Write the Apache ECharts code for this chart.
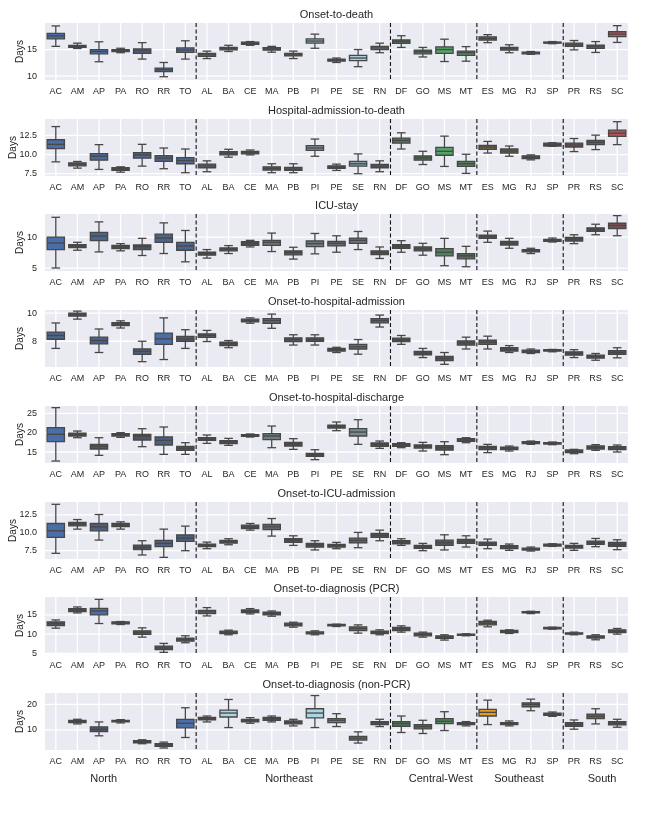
<!DOCTYPE html>
<html lang="en">
<head>
  <meta charset="UTF-8">
  <title>Delay distributions by state</title>
  <script src="https://cdn.jsdelivr.net/npm/echarts@6/dist/echarts.min.js"></script>
  <style>
    html, body { margin: 0; padding: 0; background: #fff; }
    #chart { width: 660px; height: 825px; }
  </style>
</head>
<body>
  <div id="chart"></div>
  <script>
    // states grouped by region (North, Northeast, Central-West, Southeast, South)
    const states = ['AC','AM','AP','PA','RO','RR','TO','AL','BA','CE','MA','PB','PI','PE','SE','RN',
                    'DF','GO','MS','MT','ES','MG','RJ','SP','PR','RS','SC'];
    const regions = ['North', 'Northeast', 'Central-West', 'Southeast', 'South'];
    const regionSizes = [7, 9, 4, 4, 3];

    const panelTitles = ['Onset-to-death', 'Hospital-admission-to-death', 'ICU-stay',
      'Onset-to-hospital-admission', 'Onset-to-hospital-discharge', 'Onset-to-ICU-admission',
      'Onset-to-diagnosis (PCR)', 'Onset-to-diagnosis (non-PCR)'];
    const yRanges = [[9.26, 20], [7.2, 14.65], [4.52, 13.72], [6.17, 10.22],
                     [12.16, 26.9], [6.34, 14.3], [4.83, 19.66], [2.08, 24.5]];
    const yTicks = [[10, 15], [7.5, 10, 12.5], [5, 10], [8, 10],
                    [15, 20, 25], [7.5, 10, 12.5], [5, 10, 15], [10, 20]];

    // each box: [lower whisker, q1, median, q3, upper whisker], in state order
    const onsetToDeath = [
      [15.6,17.0,17.56,18.05,19.45],[15.2,15.4,15.6,15.8,16.2],[12.7,14.2,14.63,15.0,16.46],
      [14.4,14.6,14.8,15.0,15.24],[13.2,14.3,14.75,15.1,16.3],[9.88,10.85,11.2,11.5,12.56],
      [13.2,14.45,14.9,15.3,16.65],[13.3,13.7,14.0,14.27,14.7],[14.63,14.94,15.2,15.4,15.8],
      [15.8,15.98,16.2,16.4,16.5],[14.5,14.88,15.1,15.37,15.6],[13.3,13.8,14.0,14.27,14.7],
      [15.24,16.2,16.6,17.0,17.9],[12.56,12.8,13.05,13.2,13.4],[11.77,12.9,13.4,13.9,15.0],
      [14.4,15.0,15.3,15.6,16.2],[15.4,16.16,16.5,16.8,17.6],[13.6,14.2,14.6,14.9,15.4],
      [12.74,14.27,15.0,15.5,16.95],[12.8,13.9,14.4,14.7,15.55],[16.3,16.77,17.07,17.4,17.8],
      [14.4,14.88,15.2,15.4,15.9],[14.1,14.2,14.4,14.5,14.63],[16.1,16.2,16.3,16.42,16.5],
      [14.94,15.6,15.9,16.2,16.7],[14.45,15.2,15.55,15.85,16.5],[16.34,17.44,17.9,18.35,19.5]
    ];
    const admissionToDeath = [
      [9.05,10.78,11.34,11.94,13.66],[8.23,8.53,8.75,8.92,9.1],[8.06,9.27,9.78,10.13,11.3],
      [7.7,7.93,8.1,8.28,8.4],[8.49,9.53,9.96,10.26,11.34],[8.15,9.1,9.53,9.87,10.86],
      [7.63,8.8,9.22,9.6,10.73],[7.76,8.28,8.53,8.75,9.18],[9.66,9.96,10.17,10.39,10.69],
      [9.96,10.09,10.26,10.43,10.6],[7.63,7.97,8.19,8.4,8.8],[7.63,7.93,8.1,8.32,8.8],
      [9.78,10.56,10.86,11.16,12.03],[7.93,8.19,8.36,8.53,8.75],[7.5,8.49,8.8,9.1,10.09],
      [7.76,8.28,8.49,8.7,9.18],[10.73,11.5,11.85,12.15,12.85],[8.7,9.27,9.57,9.83,10.43],
      [8.45,9.91,10.43,10.95,12.41],[7.54,8.45,8.8,9.1,10.04],[10.2,10.69,10.99,11.2,11.72],
      [9.78,10.2,10.47,10.73,11.12],[9.31,9.48,9.66,9.83,9.96],[11.08,11.12,11.3,11.5,11.55],
      [10.39,10.99,11.25,11.5,12.1],[10.65,11.3,11.6,11.85,12.54],[11.3,12.37,12.8,13.19,14.3]
    ];
    const icuStay = [
      [5.0,7.98,9.04,10.0,13.19],[7.87,8.3,8.56,8.78,9.15],[7.6,9.41,10.16,10.74,12.45],
      [7.77,8.14,8.4,8.67,8.94],[7.02,7.98,8.46,8.72,9.79],[7.34,9.15,9.84,10.48,12.29],
      [6.0,7.87,8.56,9.15,11.06],[6.6,7.07,7.34,7.55,7.98],[7.34,7.77,8.03,8.24,8.62],
      [8.4,8.67,8.99,9.26,9.47],[7.66,8.67,9.15,9.47,10.64],[6.44,7.13,7.5,7.77,8.35],
      [7.29,8.46,8.94,9.36,10.58],[7.55,8.56,8.99,9.3,10.2],[7.98,8.99,9.47,9.84,10.9],
      [6.54,7.18,7.5,7.77,8.4],[7.55,8.19,8.5,8.78,9.41],[7.07,7.77,8.09,8.4,8.99],
      [5.37,6.97,7.55,8.14,9.79],[5.21,6.49,6.97,7.34,8.5],[9.15,9.79,10.1,10.32,10.96],
      [8.19,8.72,9.04,9.3,9.79],[7.34,7.6,7.82,7.98,8.19],[9.2,9.3,9.47,9.63,9.84],
      [8.94,9.36,9.68,9.95,10.37],[10.37,10.9,11.22,11.49,12.07],[10.21,11.38,11.86,12.23,13.46]
    ];
    const onsetToAdmission = [
      [7.49,8.14,8.41,8.65,9.3],[9.57,9.78,9.9,10.0,10.14],[7.2,7.81,8.05,8.29,8.87],
      [8.94,9.11,9.23,9.33,9.45],[6.55,7.06,7.28,7.45,8.0],[6.7,7.78,8.17,8.58,9.66],
      [7.49,8.0,8.17,8.34,8.82],[7.98,8.27,8.41,8.53,8.77],[7.54,7.69,7.81,7.93,8.05],
      [9.28,9.37,9.47,9.57,9.66],[8.92,9.28,9.47,9.61,9.93],[7.73,7.98,8.12,8.24,8.46],
      [7.73,8.0,8.12,8.24,8.46],[7.2,7.3,7.4,7.49,7.57],[7.08,7.45,7.61,7.78,8.12],
      [9.01,9.3,9.47,9.61,9.86],[7.78,7.98,8.1,8.22,8.41],[6.84,7.04,7.16,7.28,7.49],
      [6.36,6.63,6.77,6.92,7.2],[7.45,7.73,7.88,8.02,8.29],[7.45,7.78,7.93,8.07,8.36],
      [7.2,7.3,7.42,7.54,7.69],[7.13,7.2,7.3,7.37,7.45],[7.25,7.3,7.35,7.4,7.42],
      [6.84,7.01,7.13,7.25,7.4],[6.65,6.8,6.92,7.01,7.13],[6.82,7.06,7.2,7.33,7.54]
    ];
    const onsetToDischarge = [
      [12.67,17.67,19.57,21.3,26.47],[18.7,19.14,19.57,19.9,20.43],[14.14,15.78,16.47,16.98,18.7],
      [18.8,19.14,19.48,19.74,20.0],[16.38,18.1,19.14,19.57,21.03],[14.4,16.81,18.02,18.88,21.47],
      [14.4,15.43,15.95,16.47,17.41],[17.24,18.02,18.36,18.7,19.4],[16.72,17.16,17.59,17.93,18.53],
      [18.88,19.05,19.31,19.48,19.66],[16.12,18.19,19.14,19.74,21.72],[15.69,16.55,17.07,17.5,18.45],
      [13.02,13.88,14.31,14.66,15.6],[20.52,21.2,21.64,21.98,22.76],[16.98,19.14,20.17,21.03,23.36],
      [15.95,16.47,16.98,17.33,17.84],[16.12,16.47,16.81,17.16,17.41],[15.26,16.03,16.47,16.81,17.5],
      [14.31,15.52,16.12,16.64,17.67],[17.41,17.76,18.1,18.45,18.7],[14.83,15.6,16.12,16.47,16.98],
      [15.26,15.6,16.03,16.29,16.55],[16.98,17.16,17.41,17.67,17.84],[16.9,17.07,17.24,17.41,17.59],
      [14.57,14.83,15.17,15.52,15.69],[15.43,15.78,16.21,16.55,16.9],[15.0,15.6,16.03,16.38,16.81]
    ];
    const onsetToIcu = [
      [7.13,9.35,10.28,11.3,13.98],[10.51,10.97,11.2,11.44,11.85],[8.98,10.28,10.83,11.3,12.55],
      [10.51,10.88,11.06,11.3,11.53],[6.9,7.64,7.96,8.29,8.89],[6.57,8.06,8.52,8.94,10.51],
      [7.5,8.8,9.26,9.72,10.93],[7.78,8.06,8.24,8.43,8.7],[8.33,8.56,8.75,8.94,9.17],
      [10.37,10.6,10.83,11.06,11.3],[9.54,10.46,10.83,11.16,11.99],[8.24,8.66,8.94,9.17,9.58],
      [7.6,8.01,8.29,8.52,8.89],[7.78,8.01,8.19,8.38,8.66],[7.92,8.61,8.94,9.26,10.05],
      [8.89,9.35,9.63,9.91,10.37],[8.24,8.47,8.7,8.89,9.17],[7.5,7.82,8.06,8.24,8.52],
      [7.6,8.24,8.61,8.98,9.72],[8.01,8.52,8.8,9.07,9.58],[7.78,8.24,8.47,8.7,9.12],
      [7.55,7.78,8.01,8.19,8.43],[7.45,7.6,7.73,7.87,8.01],[8.1,8.15,8.29,8.43,8.47],
      [7.55,7.87,8.06,8.24,8.52],[8.06,8.38,8.61,8.84,9.21],[7.64,8.1,8.38,8.66,9.03]
    ];
    const diagnosisPcr = [
      [11.55,12.24,12.76,13.19,13.7],[15.52,15.86,16.29,16.64,17.07],[12.76,15.0,16.03,16.72,19.05],
      [12.5,12.67,12.93,13.19,13.28],[9.22,9.91,10.43,10.86,11.64],[5.26,5.95,6.38,6.9,7.59],
      [7.76,8.19,8.62,8.97,9.57],[14.74,15.34,15.78,16.2,16.9],[9.83,10.17,10.43,10.78,11.03],
      [15.26,15.6,15.95,16.29,16.64],[14.66,15.0,15.34,15.69,16.03],[11.81,12.16,12.5,12.84,13.1],
      [9.83,10.09,10.34,10.6,10.86],[11.98,12.16,12.33,12.5,12.59],[10.26,10.95,11.47,11.9,12.41],
      [9.83,10.17,10.52,10.78,11.12],[10.52,10.95,11.38,11.72,12.16],[9.22,9.57,9.91,10.26,10.52],
      [8.45,8.88,9.22,9.57,9.83],[9.57,9.66,9.83,10.0,10.09],[11.9,12.41,12.84,13.28,13.62],
      [10.17,10.43,10.69,10.95,11.12],[15.34,15.52,15.69,15.86,15.95],[11.29,11.38,11.55,11.72,11.81],
      [9.83,10.0,10.17,10.34,10.52],[8.53,8.97,9.22,9.57,9.83],[10.0,10.43,10.78,11.12,11.47]
    ];
    const diagnosisNonPcr = [
      null,[12.34,12.86,13.38,13.77,14.16],[7.66,9.35,10.26,11.17,13.12],
      [12.73,13.12,13.38,13.77,14.03],[4.55,4.94,5.32,5.71,6.1],[2.86,3.5,4.03,4.55,5.19],
      [7.0,10.78,12.6,14.16,18.7],[13.12,13.9,14.42,14.94,15.45],[10.9,15.06,16.62,17.8,21.95],
      [12.6,13.12,13.64,14.16,14.8],[13.12,13.77,14.42,14.94,15.45],[11.56,12.34,12.99,13.5,14.16],
      [10.9,14.68,16.62,18.3,23.5],[11.3,12.86,13.77,14.42,16.36],[4.81,5.97,6.75,7.4,9.22],
      [11.3,12.08,12.73,13.25,14.16],[8.96,11.43,12.47,13.25,15.45],[8.57,10.39,11.3,12.08,13.77],
      [9.74,12.47,13.38,14.42,17.14],[11.56,12.08,12.47,12.86,13.25],[12.08,15.45,16.88,18.05,21.69],
      [11.56,12.08,12.47,12.86,13.5],[17.53,19.09,20.0,20.65,22.08],[15.32,15.71,16.23,16.62,17.01],
      [10.26,11.43,12.21,12.86,13.9],[12.34,14.42,15.32,16.23,18.31],[11.04,11.95,12.6,13.25,14.16]
    ];

    const panels = [onsetToDeath, admissionToDeath, icuStay, onsetToAdmission,
                    onsetToDischarge, onsetToIcu, diagnosisPcr, diagnosisNonPcr];

    // ---- styling ----
    const FONT = '"Liberation Sans", Arial, sans-serif';
    const regionColors = ['#4a6ea8', '#a9d6e4', '#55a466', '#eca21c', '#d7525a'];
    const darkColor = [78, 80, 82];
    const edgeColor = '#474747';
    const plotLeft = 45, plotRight = 32, plotHeight = 57;
    const plotWidth = 660 - plotLeft - plotRight;
    const labelMargin = 8;
    const tops = panelTitles.map((t, i) => Math.round(23 + i * 95.7));
    const regionLabelAt = [2.22, 10.8, 17.83, 21.45, 25.3];

    // region index of each state
    const regionOf = [];
    regionSizes.forEach((n, r) => { for (let k = 0; k < n; k++) regionOf.push(r); });
    // dashed separators go after the last state of each region (except the last)
    const separators = [];
    let acc = 0;
    regionSizes.slice(0, -1).forEach(n => { acc += n; separators.push(acc - 1); });

    const measureCtx = document.createElement('canvas').getContext('2d');
    measureCtx.font = `9px ${FONT}`;

    function hexToRgb(h) {
      return [parseInt(h.slice(1, 3), 16), parseInt(h.slice(3, 5), 16), parseInt(h.slice(5, 7), 16)];
    }
    // wider distributions get the full region colour, narrow ones fade to dark grey
    function boxColor(region, t) {
      const base = hexToRgb(regionColors[region]);
      const c = base.map((v, k) => Math.round(darkColor[k] + (v - darkColor[k]) * t));
      return `rgb(${c[0]},${c[1]},${c[2]})`;
    }

    function renderBox(params, api) {
      const x = api.value(0);
      const lo = api.coord([x, api.value(1)]);
      const q1 = api.coord([x, api.value(2)]);
      const md = api.coord([x, api.value(3)]);
      const q3 = api.coord([x, api.value(4)]);
      const hi = api.coord([x, api.value(5)]);
      const bw = api.size([1, 0])[0] * 0.8;
      const cx = lo[0];
      const lineStyle = { stroke: edgeColor, lineWidth: 1.3 };
      const cap = bw / 4;
      return {
        type: 'group',
        children: [
          { type: 'line', shape: { x1: cx, y1: q1[1], x2: cx, y2: lo[1] }, style: lineStyle },
          { type: 'line', shape: { x1: cx, y1: q3[1], x2: cx, y2: hi[1] }, style: lineStyle },
          { type: 'line', shape: { x1: cx - cap, y1: lo[1], x2: cx + cap, y2: lo[1] }, style: lineStyle },
          { type: 'line', shape: { x1: cx - cap, y1: hi[1], x2: cx + cap, y2: hi[1] }, style: lineStyle },
          { type: 'rect', shape: { x: cx - bw / 2, y: q3[1], width: bw, height: q1[1] - q3[1] },
            style: { fill: api.visual('color'), stroke: edgeColor, lineWidth: 1.3 } },
          { type: 'line', shape: { x1: cx - bw / 2, y1: md[1], x2: cx + bw / 2, y2: md[1] }, style: lineStyle }
        ]
      };
    }

    function makeBackground(ticks) {
      return function (params, api) {
        const cs = params.coordSys;
        const x = api.coord([api.value(0), ticks[0]])[0];
        const children = [{ type: 'line', shape: { x1: x, y1: cs.y, x2: x, y2: cs.y + cs.height },
                            style: { stroke: '#ffffff', lineWidth: 1.3 } }];
        if (params.dataIndex === 0) {
          ticks.forEach(v => {
            const y = api.coord([0, v])[1];
            children.push({ type: 'line', shape: { x1: cs.x, y1: y, x2: cs.x + cs.width, y2: y },
                            style: { stroke: '#ffffff', lineWidth: 1.3 } });
          });
        }
        return { type: 'group', children };
      };
    }

    function renderSeparator(params, api) {
      const cs = params.coordSys;
      const i = api.value(0);
      const a = api.coord([i, 0])[0];
      const b = api.coord([i + 1, 0])[0];
      const x = (a + b) / 2;
      return { type: 'line', shape: { x1: x, y1: cs.y, x2: x, y2: cs.y + cs.height },
               style: { stroke: '#111111', lineWidth: 1.1, lineDash: [4, 2.5] } };
    }

    const grid = [], xAxis = [], yAxis = [], series = [], graphics = [];

    panels.forEach((boxes, p) => {
      const ticks = yTicks[p];
      const decimals = ticks.some(v => v % 1 !== 0) ? 1 : 0;
      const fmt = v => v.toFixed(decimals);
      grid.push({ left: plotLeft, right: plotRight, top: tops[p], height: plotHeight,
                  containLabel: false, outerBoundsMode: 'none',
                  show: true, backgroundColor: '#eaeaf2', borderWidth: 0 });
      xAxis.push({
        type: 'category', gridIndex: p, data: states,
        axisLine: { show: false }, axisTick: { show: false }, splitLine: { show: false },
        axisLabel: { interval: 0, fontSize: 9, color: '#262626', margin: 7, fontFamily: FONT }
      });
      yAxis.push({
        type: 'value', gridIndex: p, min: yRanges[p][0], max: yRanges[p][1],
        axisLine: { show: false }, axisTick: { show: false }, splitLine: { show: false },
        axisLabel: { customValues: ticks, fontSize: 9, color: '#262626', margin: labelMargin,
                     fontFamily: FONT, formatter: fmt }
      });

      const spans = boxes.map(b => b ? b[4] - b[0] : 0);
      const maxSpan = Math.max(...spans);
      const boxData = [];
      boxes.forEach((b, i) => {
        if (!b) return;
        const t = Math.min(1, Math.max(0, (spans[i] / maxSpan - 0.2) / 0.6));
        boxData.push({ value: [i, b[0], b[1], b[2], b[3], b[4]],
                       itemStyle: { color: boxColor(regionOf[i], t) } });
      });

      series.push({
        type: 'custom', xAxisIndex: p, yAxisIndex: p, silent: true, z: 1,
        renderItem: makeBackground(ticks), clip: true,
        encode: { x: 0, y: 1 },
        data: states.map((s, i) => [i, ticks[0]])
      });
      series.push({
        type: 'custom', xAxisIndex: p, yAxisIndex: p, silent: true, z: 3,
        renderItem: renderBox,
        encode: { x: 0, y: [1, 2, 3, 4, 5] },
        data: boxData
      });
      series.push({
        type: 'custom', xAxisIndex: p, yAxisIndex: p, silent: true, z: 4,
        renderItem: renderSeparator,
        encode: { x: 0, y: 1 },
        data: separators.map(i => [i, ticks[0]])
      });

      graphics.push({
        type: 'text', x: plotLeft + plotWidth / 2, y: tops[p] - 8,
        style: { text: panelTitles[p], textAlign: 'center', textVerticalAlign: 'middle',
                 font: `11px ${FONT}`, fill: '#262626' }
      });
      // y-axis title sits just left of the widest tick label, as matplotlib does
      const labelW = Math.max(...ticks.map(v => measureCtx.measureText(fmt(v)).width));
      graphics.push({
        type: 'text', x: plotLeft - labelMargin - labelW - 6.5, y: tops[p] + plotHeight / 2,
        rotation: Math.PI / 2,
        style: { text: 'Days', textAlign: 'center', textVerticalAlign: 'middle',
                 font: `10px ${FONT}`, fill: '#262626' }
      });
    });

    const slot = plotWidth / states.length;
    regions.forEach((name, r) => {
      graphics.push({
        type: 'text', x: plotLeft + (regionLabelAt[r] + 0.5) * slot, y: 779,
        style: { text: name, textAlign: 'center', textVerticalAlign: 'middle',
                 font: `11px ${FONT}`, fill: '#262626' }
      });
    });

    const chart = echarts.init(document.getElementById('chart'), null, { renderer: 'canvas' });
    chart.setOption({
      animation: false,
      backgroundColor: '#ffffff',
      grid, xAxis, yAxis, series,
      graphic: graphics
    });
  </script>
</body>
</html>
